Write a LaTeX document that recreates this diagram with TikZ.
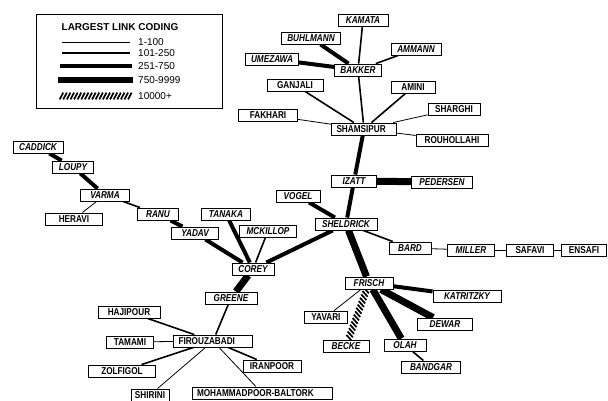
\documentclass[tikz,border=0pt]{standalone}
\usepackage{fontspec}
\setmainfont{Liberation Sans}
\newfontfamily\nodefont[FakeStretch=0.82]{Liberation Sans}
\usetikzlibrary{backgrounds,decorations.markings}
\begin{document}
\begin{tikzpicture}[x=1pt,y=-1pt,
 nd/.style={draw, line width=0.9pt, fill=white, minimum height=12pt, inner xsep=2pt, inner ysep=1pt, text height=7.2pt, text depth=0pt, font=\nodefont\fontsize{10}{11}\selectfont\bfseries},
 it/.style={nd, font=\nodefont\fontsize{10}{11}\selectfont\bfseries\itshape},
 wd/.style={minimum width=#1pt},
 lft/.style={text width=#1pt, align=left, inner xsep=5pt},
 e1/.style={line width=0.8pt},
 e2/.style={line width=1.6pt},
 e3/.style={line width=4pt},
 e4/.style={line width=7pt},
 hatch/.style={decorate, decoration={markings, mark=between positions 0.02 and 1 step 3.6pt with {\draw[line width=1.7pt] (-1.8pt,-3.4pt) -- (1.8pt,3.4pt);}}},
 leglab/.style={anchor=west, inner sep=0pt, font=\fontsize{10}{12}\selectfont}
]
\useasboundingbox (0,0) rectangle (608,400);
% legend
\node[draw, line width=1pt, minimum width=186pt, minimum height=94pt, anchor=north west, inner sep=0pt] (legend) at (36,14) {};
\node[font=\bfseries\fontsize{10}{12}\selectfont, inner sep=0pt] (ltitle) at (120,27) {LARGEST LINK CODING};
\draw[line width=0.6pt] (62,42) -- (130,42);
\node[leglab] (l1) at (138,42) {1-100};
\draw[line width=1.3pt] (62,53) -- (130,53);
\node[leglab] (l2) at (138,53) {101-250};
\draw[line width=3.5pt] (60,66) -- (132,66);
\node[leglab] (l3) at (138,66) {251-750};
\draw[line width=6.5pt] (58,80) -- (133,80);
\node[leglab] (l4) at (138,80) {750-9999};
\path[hatch] (60,96) -- (133,96);
\node[leglab] (l5) at (138,96) {10000+};

% nodes
\node[it, wd=50] (kamata) at (363,20) {KAMATA};
\node[it, wd=59] (buhlmann) at (311,38) {BUHLMANN};
\node[it, wd=50] (ammann) at (416,49) {AMMANN};
\node[it, wd=53] (umezawa) at (272,59) {UMEZAWA};
\node[it, wd=47] (bakker) at (358,70) {BAKKER};
\node[nd, wd=56] (ganjali) at (295,85) {GANJALI};
\node[nd, wd=44] (amini) at (413,87) {AMINI};
\node[nd, wd=59] (fakhari) at (268,115) {FAKHARI};
\node[nd, lft=55] (shamsipur) at (364,129) {SHAMSIPUR};
\node[nd, wd=52] (sharghi) at (454,109) {SHARGHI};
\node[nd, wd=72] (rouhollahi) at (452,140) {ROUHOLLAHI};
\node[it, wd=50] (caddick) at (38,147) {CADDICK};
\node[it, wd=41] (loupy) at (73,167) {LOUPY};
\node[it, wd=49] (varma) at (105,195) {VARMA};
\node[nd, wd=57] (heravi) at (74,219) {HERAVI};
\node[it, wd=41] (ranu) at (158,214) {RANU};
\node[it, wd=49] (tanaka) at (226,214) {TANAKA};
\node[it, wd=47] (yadav) at (195,233) {YADAV};
\node[it, wd=57] (mckillop) at (268,231) {MCKILLOP};
\node[it, wd=42] (corey) at (253,269) {COREY};
\node[it, wd=44] (vogel) at (298,196) {VOGEL};
\node[it, wd=62] (sheldrick) at (346,224) {SHELDRICK};
\node[it, wd=45] (izatt) at (354,181) {IZATT};
\node[it, wd=61] (pedersen) at (442,182) {PEDERSEN};
\node[it, wd=42] (bard) at (410,248) {BARD};
\node[it, wd=47] (miller) at (471,250) {MILLER};
\node[nd, wd=47] (safavi) at (530,250) {SAFAVI};
\node[nd, wd=45] (ensafi) at (584,250) {ENSAFI};
\node[it, wd=48] (frisch) at (369,283) {FRISCH};
\node[it, wd=68] (katritzky) at (467,296) {KATRITZKY};
\node[nd, wd=43] (yavari) at (326,317) {YAVARI};
\node[it, wd=55] (dewar) at (445,324) {DEWAR};
\node[it, wd=46] (becke) at (346,346) {BECKE};
\node[it, wd=42] (olah) at (405,345) {OLAH};
\node[it, wd=59] (bandgar) at (431,367) {BANDGAR};
\node[it, wd=52] (greene) at (231,298) {GREENE};
\node[nd, wd=62] (hajipour) at (129,312) {HAJIPOUR};
\node[nd, lft=69] (firouzabadi) at (213,341) {FIROUZABADI};
\node[nd, wd=47] (tamami) at (130,342) {TAMAMI};
\node[nd, wd=67] (zolfigol) at (122,371) {ZOLFIGOL};
\node[nd, wd=58] (iranpoor) at (272,366) {IRANPOOR};
\node[nd, lft=130] (mohammadpoor) at (262,393) {MOHAMMADPOOR-BALTORK};
\node[nd, wd=38] (shirini) at (150,395) {SHIRINI};

\begin{scope}[on background layer]
\draw[e2] (kamata) -- (bakker);
\draw[e3] (buhlmann) -- (bakker);
\draw[e3] (umezawa) -- (bakker);
\draw[e2] (ammann) -- (bakker);
\draw[e2] (bakker) -- (shamsipur);
\draw[e2] (ganjali) -- (shamsipur);
\draw[e2] (amini) -- (shamsipur);
\draw[e1] (fakhari) -- (shamsipur);
\draw[e1] (sharghi) -- (shamsipur);
\draw[e1] (rouhollahi) -- (shamsipur);
\draw[e3] (shamsipur) -- (izatt);
\draw[e4] (izatt) -- (pedersen);
\draw[e3] (izatt) -- (sheldrick);
\draw[e3] (vogel) -- (sheldrick);
\draw[e3] (sheldrick) -- (corey);
\draw[e2] (sheldrick) -- (bard);
\draw[e1] (bard) -- (miller);
\draw[e1] (miller) -- (safavi);
\draw[e1] (safavi) -- (ensafi);
\draw[e4] (sheldrick) -- (frisch);
\draw[e3] (frisch) -- (katritzky);
\draw[e4] (frisch) -- (dewar);
\draw[e4] (frisch) -- (olah);
\draw[e1] (frisch) -- (yavari);
\path[hatch] (frisch) -- (becke);
\draw[e2] (olah) -- (bandgar);
\draw[e3] (corey) -- (tanaka);
\draw[e2] (corey) -- (mckillop);
\draw[e3] (corey) -- (yadav);
\draw[e3] (yadav) -- (ranu);
\draw[e2] (ranu) -- (varma);
\draw[e3] (varma) -- (loupy);
\draw[e3] (loupy) -- (caddick);
\draw[e1] (varma) -- (heravi);
\draw[e4] (corey) -- (greene);
\draw[e2] (greene) -- (firouzabadi);
\draw[e2] (firouzabadi) -- (hajipour);
\draw[e1] (firouzabadi) -- (tamami);
\draw[e2] (firouzabadi) -- (zolfigol);
\draw[e2] (firouzabadi) -- (iranpoor);
\draw[e1] (firouzabadi) -- (mohammadpoor);
\draw[e1] (firouzabadi) -- (shirini);
\end{scope}
\end{tikzpicture}
\end{document}
